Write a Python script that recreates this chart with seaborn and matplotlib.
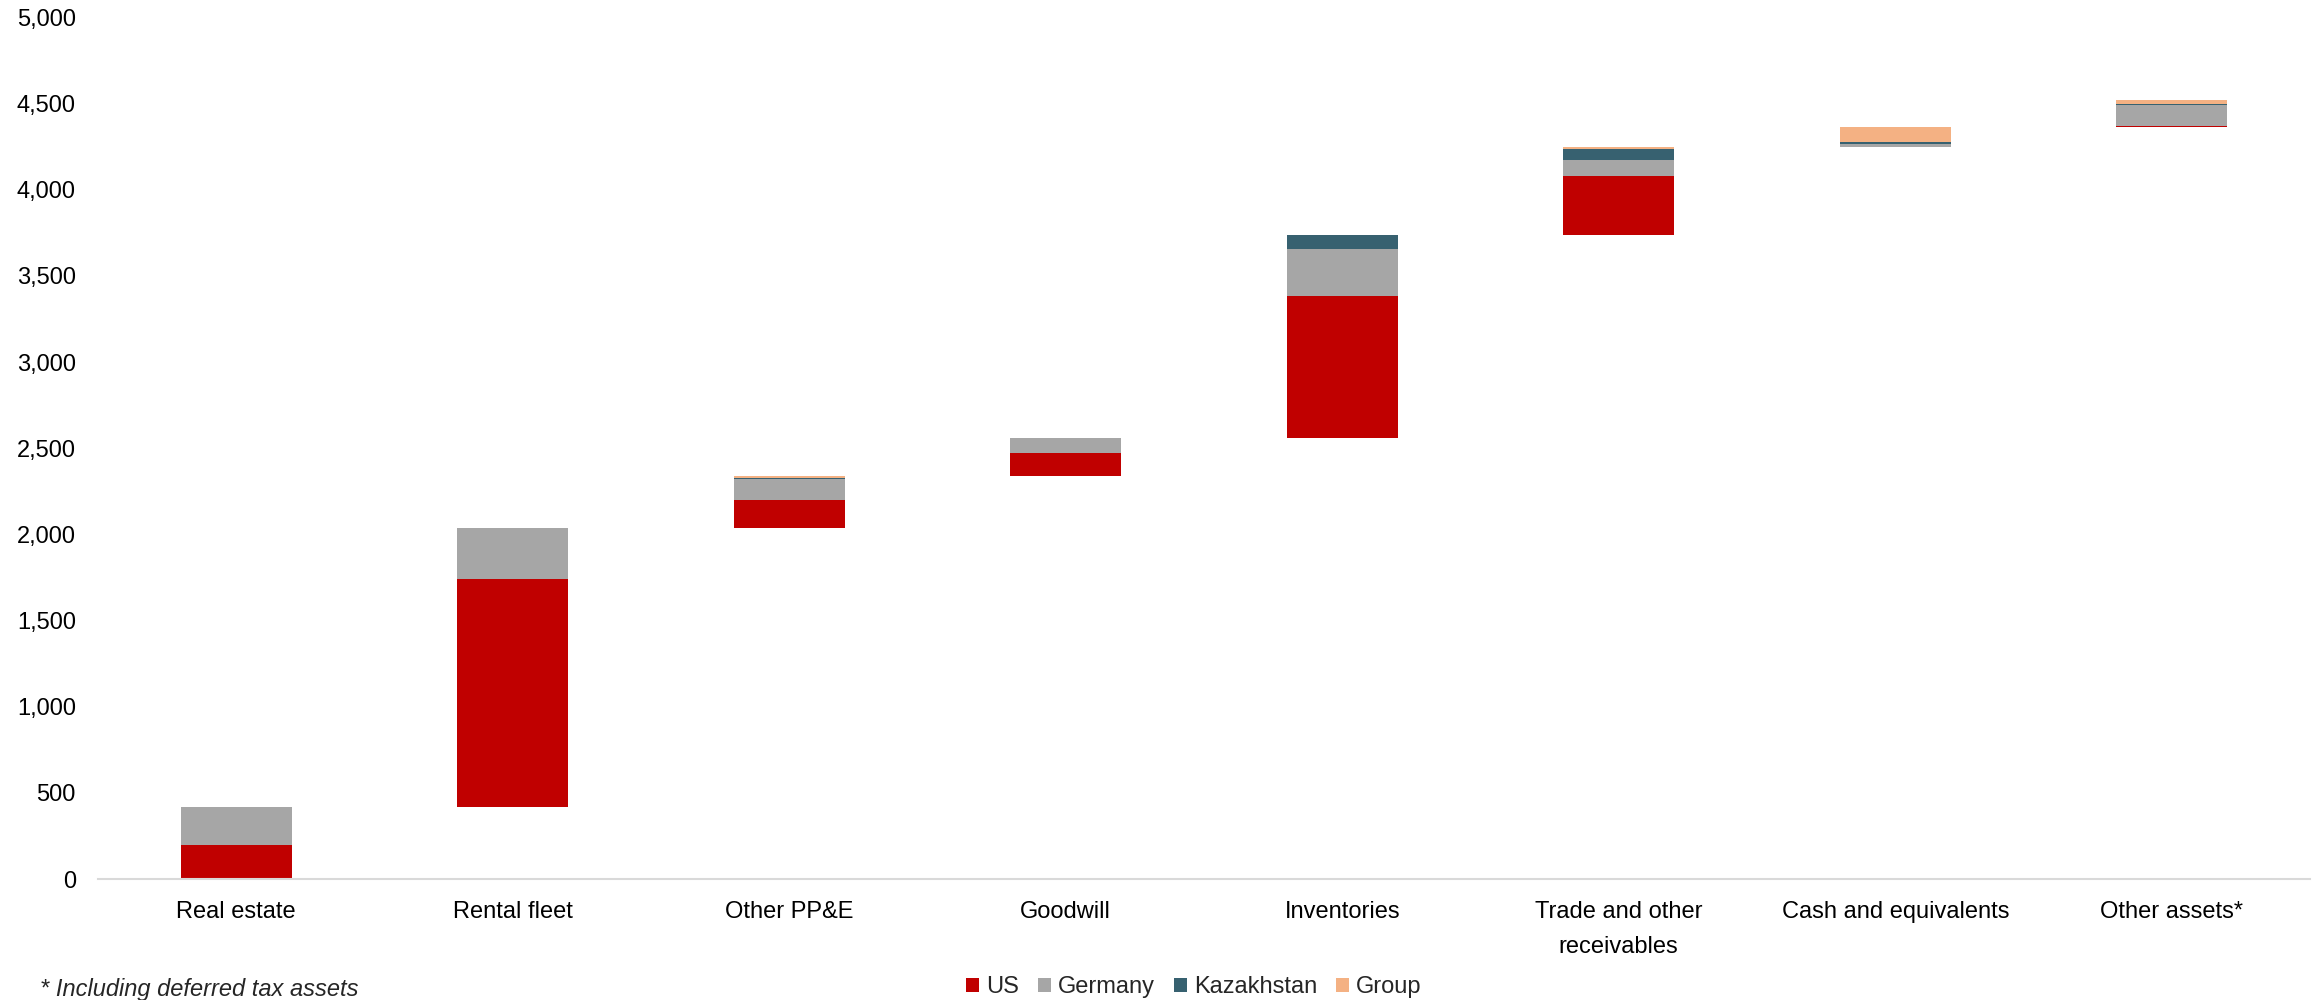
import numpy as np
import pandas as pd
import matplotlib
matplotlib.use("Agg")
import matplotlib.pyplot as plt
from matplotlib.patches import Patch
from matplotlib.ticker import FuncFormatter
import seaborn as sns

# Asset categories (waterfall steps) and contribution by segment
categories = ["Real estate", "Rental fleet", "Other PP&E", "Goodwill", "Inventories",
              "Trade and other\nreceivables", "Cash and equivalents", "Other assets*"]
us = [200, 1323, 165, 133, 827, 342, 0, 6]
germany = [218, 294, 121, 85, 272, 93, 21, 122]
kazakhstan = [0, 0, 6, 0, 82, 64, 10, 8]
group = [0, 0, 12, 0, 0, 9, 87, 21]

segments = ["US", "Germany", "Kazakhstan", "Group"]
colors = {"US": "#C00000", "Germany": "#A6A6A6", "Kazakhstan": "#376170", "Group": "#F4B183"}

df = pd.DataFrame({"category": categories, "US": us, "Germany": germany,
                   "Kazakhstan": kazakhstan, "Group": group})

# each step starts where the previous one ends
step_total = df[segments].sum(axis=1).to_numpy()
start = np.concatenate([[0], np.cumsum(step_total)[:-1]])

sns.set_style("white")
plt.rcParams["font.family"] = ["Liberation Sans", "DejaVu Sans"]

fig = plt.figure(figsize=(23.21, 10), dpi=100)
ax = fig.add_axes([98 / 2321, 0.121, (2310 - 98) / 2321, 0.8615])

bottom = start.astype(float).copy()
for seg in segments:
    sns.barplot(data=df, x="category", y=seg, order=categories, color=colors[seg],
                width=0.4, bottom=bottom.copy(), ax=ax, saturation=1,
                edgecolor="none", linewidth=0)
    bottom = bottom + df[seg].to_numpy()

ax.set_ylim(0, 5000)
ax.set_xlim(-0.5, len(categories) - 0.5)
ax.set_yticks(np.arange(0, 5001, 500))
ax.yaxis.set_major_formatter(FuncFormatter(lambda v, p: f"{int(v):,}"))
ax.set_xlabel("")
ax.set_ylabel("")

for side in ["top", "right", "left"]:
    ax.spines[side].set_visible(False)
ax.spines["bottom"].set_color("#D9D9D9")
ax.spines["bottom"].set_linewidth(1.5)

ax.tick_params(axis="y", length=0, pad=16, labelsize=17, colors="#000000")
ax.tick_params(axis="x", length=0, pad=16, labelsize=17, colors="#000000")
for lbl in ax.get_xticklabels():
    lbl.set_linespacing(1.75)

handles = [Patch(facecolor=colors[s], edgecolor="none", label=s) for s in segments]
fig.legend(handles=handles, loc="center", bbox_to_anchor=(1194 / 2321, 1 - 987 / 1000),
           ncol=4, frameon=False, fontsize=17, handlelength=0.55, handleheight=0.55,
           handletextpad=0.3, columnspacing=0.8, borderaxespad=0)

fig.text(40 / 2321, 1 - 978 / 1000, "* Including deferred tax assets", fontsize=17,
         style="italic", va="top", ha="left")

fig.savefig("out.png", dpi=100)
